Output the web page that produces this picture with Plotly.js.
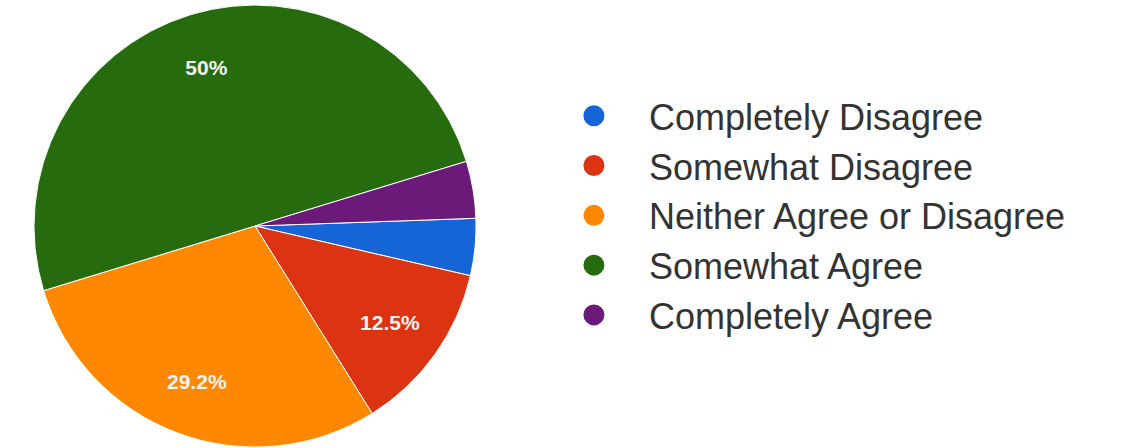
<!DOCTYPE html>
<html>
<head>
<meta charset="utf-8">
<script src="https://cdn.plot.ly/plotly-3.0.1.min.js"></script>
<style>
  html, body { margin: 0; padding: 0; background: #ffffff; }
  #chart { width: 1143px; height: 448px; }
</style>
</head>
<body>
<div id="chart"></div>
<script>
// Data (24 responses)
const categories = [
  "Completely Disagree",
  "Somewhat Disagree",
  "Neither Agree or Disagree",
  "Somewhat Agree",
  "Completely Agree"
];
const counts = [1, 3, 7, 12, 1];
const colors = ["#1565d6", "#dc3412", "#ff8800", "#266b0e", "#6b1a7a"];

const total = counts.reduce((a, b) => a + b, 0);
const textTemplates = counts.map(c => (c / total >= 0.1 ? "%{percent}" : ""));
const pieDomain = { x: [0.0297, 0.4165], y: [0, 1] };

const pieTrace = {
  type: "pie",
  labels: categories,
  values: counts,
  sort: false,
  direction: "clockwise",
  rotation: 88,
  marker: { colors: colors, line: { color: "#ffffff", width: 1 } },
  textinfo: "none",
  hoverinfo: "label+percent",
  showlegend: false,
  domain: pieDomain
};

// Transparent ring on top of the pie, only used to place the percentage labels further out
const labelTrace = {
  type: "pie",
  labels: categories,
  values: counts,
  sort: false,
  direction: "clockwise",
  rotation: 88,
  hole: 0.5,
  marker: { colors: categories.map(() => "rgba(0,0,0,0)"), line: { width: 0 } },
  texttemplate: textTemplates,
  textposition: "inside",
  insidetextorientation: "horizontal",
  insidetextfont: { family: "Liberation Sans, Arial, sans-serif", size: 21, color: "#f4f4f4", weight: "bold" },
  hoverinfo: "skip",
  showlegend: false,
  domain: pieDomain
};

// Legend entries with circular symbols
const legendTraces = categories.map((name, i) => ({
  type: "scatter",
  mode: "markers",
  x: [null],
  y: [null],
  name: name,
  marker: { symbol: "circle", size: 16, color: colors[i], line: { color: colors[i], width: 5 } },
  showlegend: true,
  hoverinfo: "skip"
}));

const layout = {
  width: 1143,
  height: 448,
  margin: { l: 0, r: 0, t: 4, b: 0 },
  paper_bgcolor: "#ffffff",
  plot_bgcolor: "#ffffff",
  xaxis: { visible: false },
  yaxis: { visible: false },
  showlegend: true,
  legend: {
    x: 0.4715,
    xanchor: "left",
    y: 0.524,
    yanchor: "middle",
    itemwidth: 100,
    font: { family: "Liberation Sans, Arial, sans-serif", size: 36, color: "#333333" },
    bgcolor: "rgba(0,0,0,0)",
    traceorder: "normal"
  }
};

Plotly.newPlot("chart", [pieTrace, labelTrace].concat(legendTraces), layout, { staticPlot: true, displayModeBar: false });
</script>
</body>
</html>
